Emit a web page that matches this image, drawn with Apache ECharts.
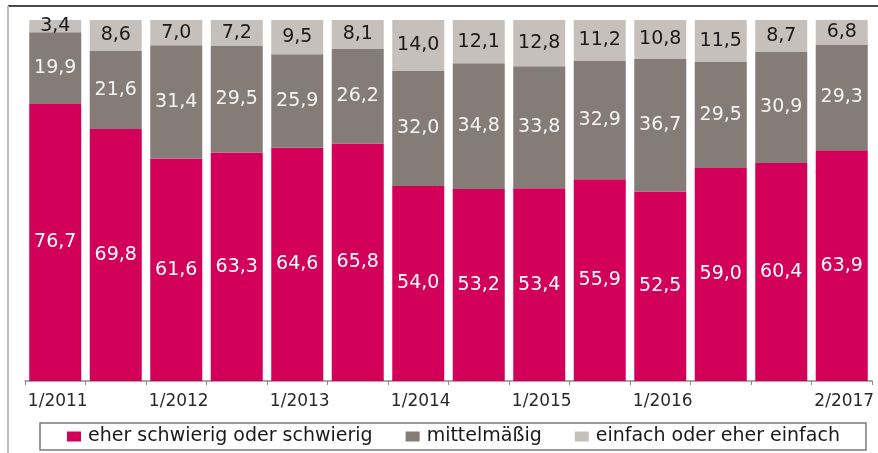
<!DOCTYPE html>
<html>
<head>
<meta charset="utf-8">
<style>html,body{margin:0;padding:0;background:#fff;}#c{width:878px;height:453px;}</style>
<script src="https://cdn.jsdelivr.net/npm/echarts@6/dist/echarts.min.js"></script>
</head>
<body>
<div id="c"></div>
<script>
const categories = ['1/2011','2/2011','1/2012','2/2012','1/2013','2/2013','1/2014','2/2014','1/2015','2/2015','1/2016','2/2016','1/2017','2/2017'];
const tickLabels = ['1/2011','','1/2012','','1/2013','','1/2014','','1/2015','','1/2016','','','2/2017'];
const seriesNames = ['eher schwierig oder schwierig','mittelmäßig','einfach oder eher einfach'];
const schwierig = [76.7,69.8,61.6,63.3,64.6,65.8,54.0,53.2,53.4,55.9,52.5,59.0,60.4,63.9];
const mittel = [19.9,21.6,31.4,29.5,25.9,26.2,32.0,34.8,33.8,32.9,36.7,29.5,30.9,29.3];
const einfach = [3.4,8.6,7.0,7.2,9.5,8.1,14.0,12.1,12.8,11.2,10.8,11.5,8.7,6.8];

const colors = ['#D3005A','#857C78','#C6C0BD'];
const labelColors = ['#ffffff','#f4f4f4','#1a1a1a'];
const fmt = p => p.value.toFixed(1).replace('.', ',');
const font = 'DejaVu Sans';

const chart = echarts.init(document.getElementById('c'));
const data = [schwierig, mittel, einfach];
chart.setOption({
  animation: false,
  color: colors,
  grid: {left: 25, right: 6, top: 20, bottom: 72},
  xAxis: {
    type: 'category',
    data: categories,
    axisLine: {lineStyle: {color: '#8a8a8a', width: 1.5}},
    axisTick: {show: true, interval: 0, length: 4, lineStyle: {color: '#8a8a8a'}},
    axisLabel: {
      interval: 0, margin: 12, color: '#2a2a2a', fontSize: 17, fontFamily: font,
      padding: [0, 0, 0, 5],
      formatter: (v, i) => tickLabels[i]
    }
  },
  yAxis: {type: 'value', min: 0, max: 100, show: false, splitLine: {show: false}},
  legend: {
    left: 40, top: 423,
    padding: [4, 26, 4, 27],
    itemGap: 33,
    itemWidth: 14, itemHeight: 10,
    icon: 'rect',
    borderColor: '#7a7a7a', borderWidth: 1.5,
    textStyle: {fontSize: 19, fontFamily: font, color: '#1a1a1a', padding: [0, 0, 0, 2]},
    data: seriesNames
  },
  graphic: [
    {type: 'line', shape: {x1: 8, y1: 6, x2: 878, y2: 6}, style: {stroke: '#4a4a4a', lineWidth: 2}},
    {type: 'line', shape: {x1: 8, y1: 6, x2: 8, y2: 453}, style: {stroke: '#bdbdbd', lineWidth: 2}}
  ],
  series: seriesNames.map((n, i) => ({
    name: n,
    type: 'bar',
    stack: 'total',
    barWidth: 52,
    data: data[i],
    label: {
      show: true, position: 'inside', formatter: fmt,
      color: labelColors[i], fontSize: 19, fontFamily: font
    }
  }))
});
</script>
</body>
</html>
